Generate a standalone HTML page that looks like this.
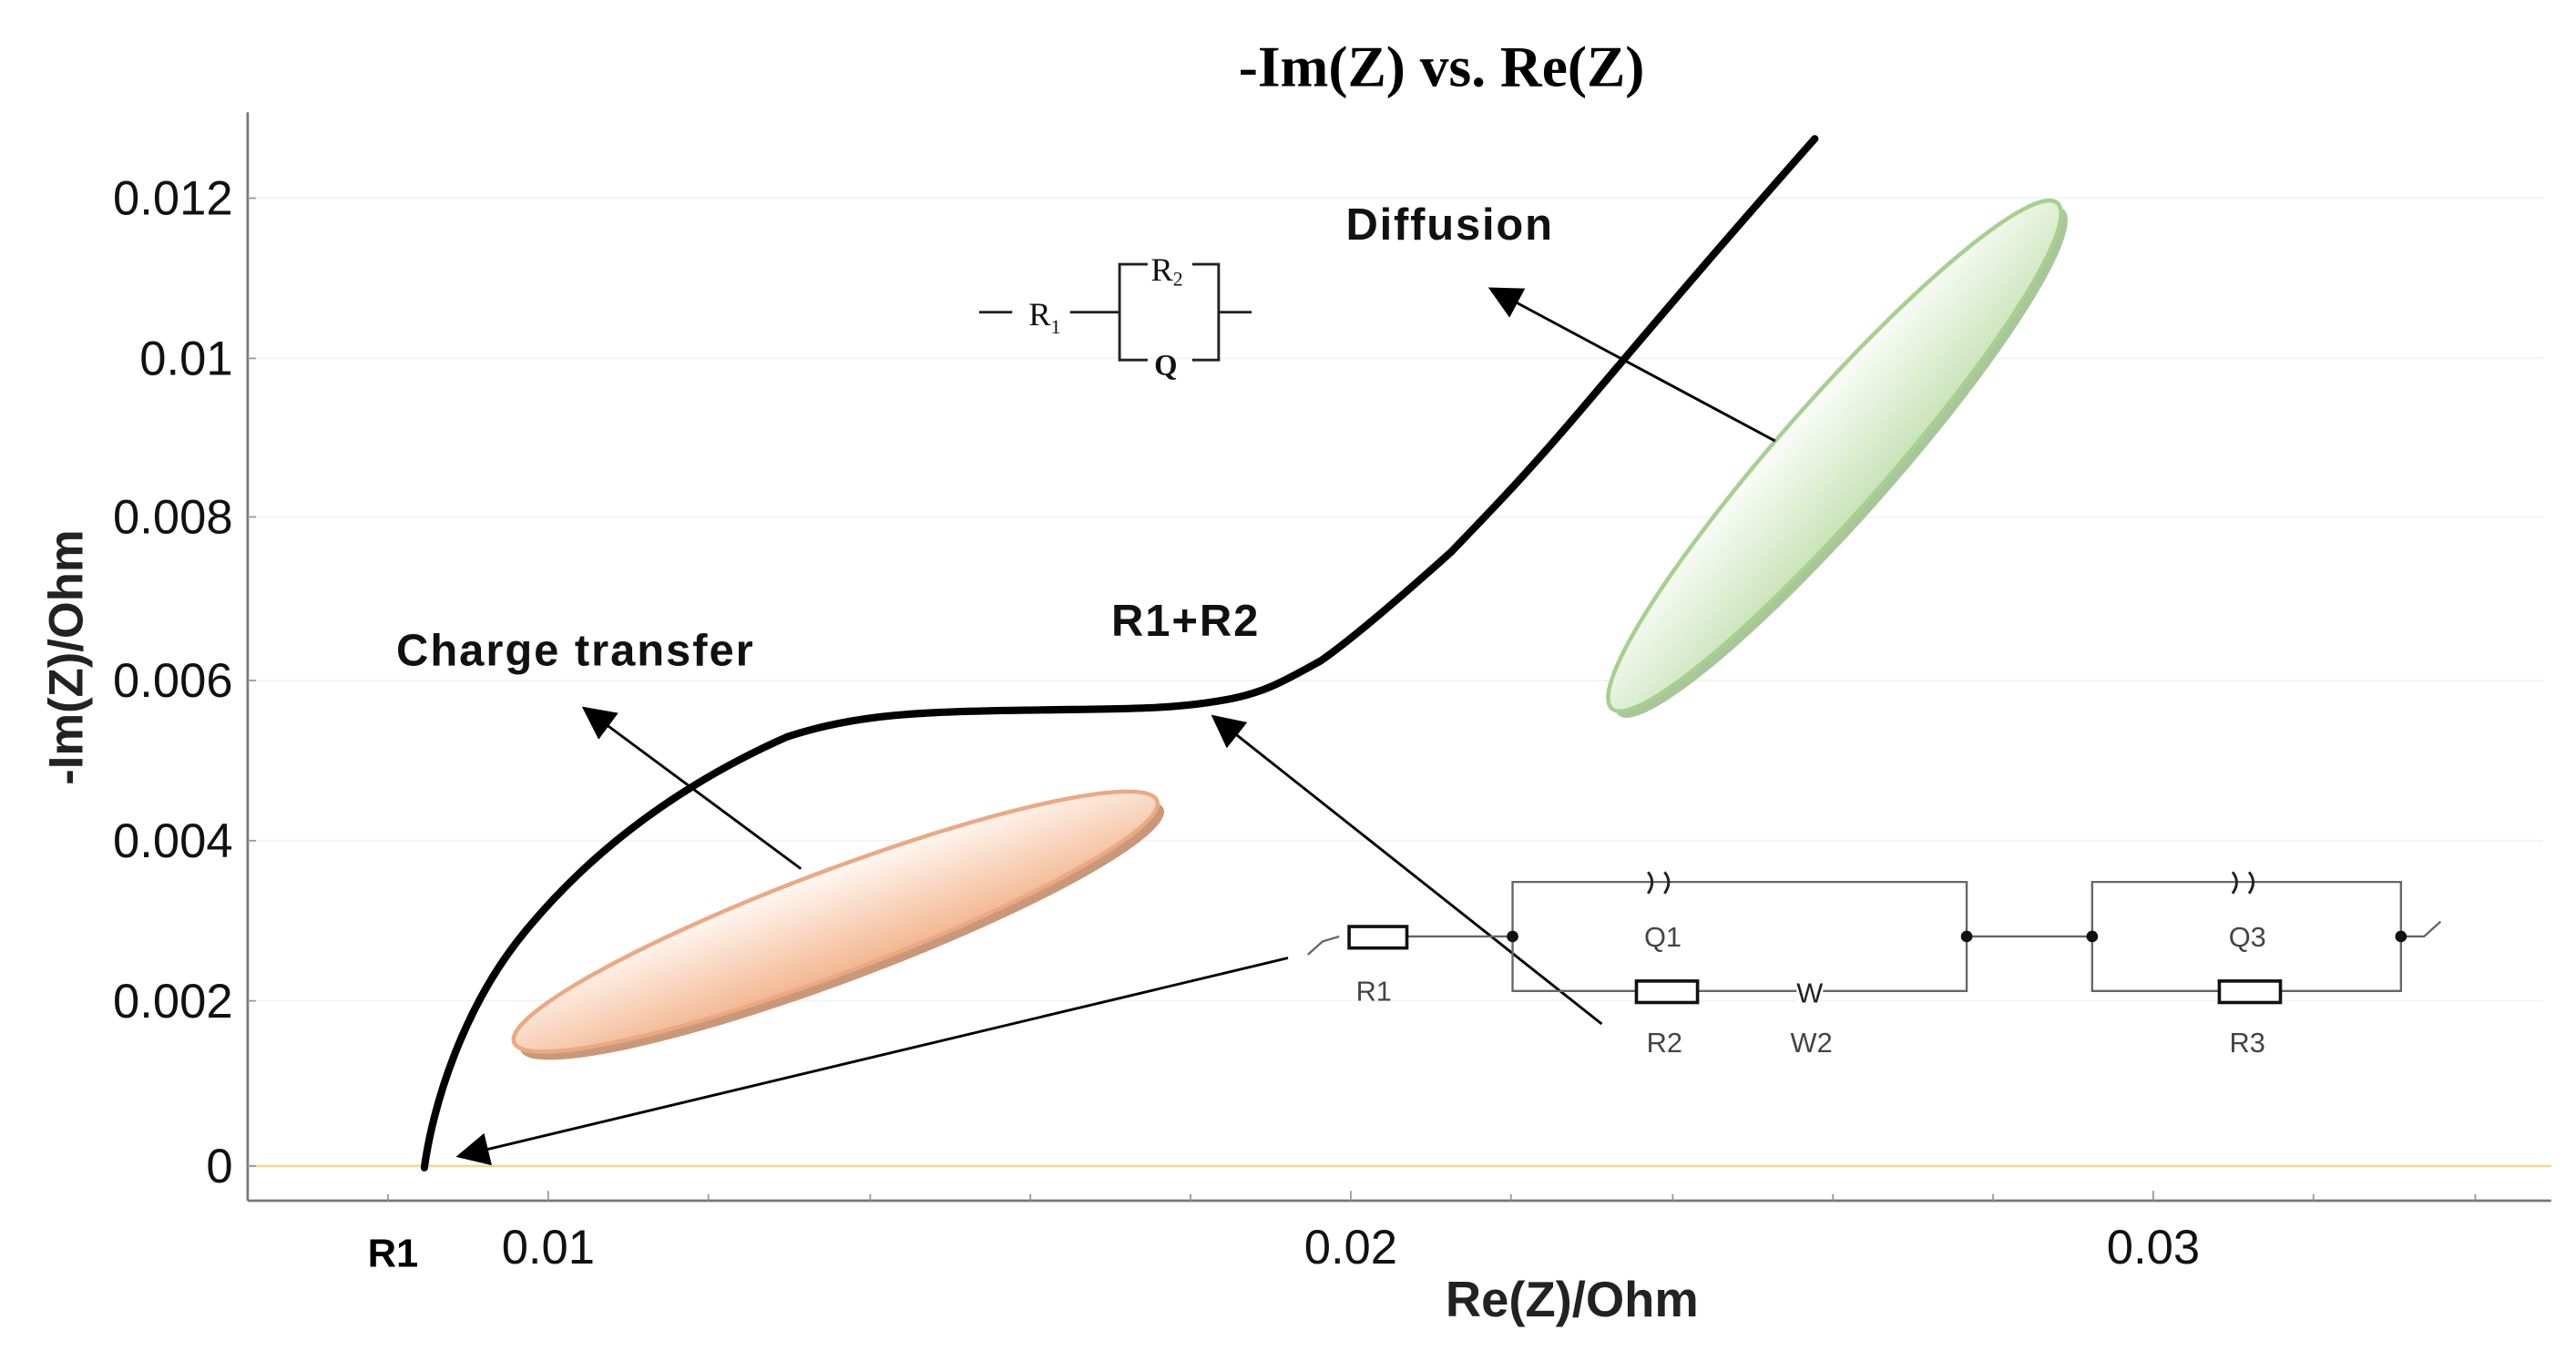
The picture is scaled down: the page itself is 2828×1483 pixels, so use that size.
<!DOCTYPE html>
<html><head><meta charset="utf-8"><style>
html,body{margin:0;padding:0;background:#fff;}
svg{display:block;}
</style></head><body>
<svg width="2828" height="1483" viewBox="0 0 1560 818" preserveAspectRatio="none" xmlns="http://www.w3.org/2000/svg">
<defs>
<linearGradient id="og" x1="0" y1="0" x2="0" y2="1">
<stop offset="0" stop-color="#fff8f3"/><stop offset="1" stop-color="#f3b690"/></linearGradient>
<linearGradient id="gg" x1="0" y1="0" x2="0" y2="1">
<stop offset="0" stop-color="#fbfdf9"/><stop offset="1" stop-color="#c9e3b8"/></linearGradient>
<marker id="ah" viewBox="0 0 10 10" refX="9" refY="5" markerWidth="22" markerHeight="20" markerUnits="userSpaceOnUse" orient="auto">
<path d="M0,0 L10,5 L0,10 z" fill="#000"/></marker>
</defs>
<g stroke="#f3f3f3" stroke-width="1">
<line x1="151" y1="120" x2="1540" y2="120"/><line x1="151" y1="217" x2="1540" y2="217"/>
<line x1="151" y1="313" x2="1540" y2="313"/><line x1="151" y1="412" x2="1540" y2="412"/>
<line x1="151" y1="509" x2="1540" y2="509"/><line x1="151" y1="606" x2="1540" y2="606"/>
</g>
<line x1="151" y1="706" x2="1545" y2="706" stroke="#f0d98e" stroke-width="1.5"/>
<line x1="150" y1="68" x2="150" y2="727" stroke="#777" stroke-width="1.5"/>
<line x1="150" y1="727" x2="1545" y2="727" stroke="#777" stroke-width="1.5"/>
<g stroke="#999" stroke-width="1">
<line x1="150" y1="120" x2="155" y2="120"/><line x1="150" y1="217" x2="155" y2="217"/>
<line x1="150" y1="313" x2="155" y2="313"/><line x1="150" y1="412" x2="155" y2="412"/>
<line x1="150" y1="509" x2="155" y2="509"/><line x1="150" y1="606" x2="155" y2="606"/>
<line x1="150" y1="706" x2="155" y2="706"/>
<line x1="235" y1="727" x2="235" y2="723"/><line x1="332" y1="727" x2="332" y2="721"/>
<line x1="429" y1="727" x2="429" y2="723"/><line x1="527" y1="727" x2="527" y2="723"/>
<line x1="624" y1="727" x2="624" y2="723"/><line x1="721" y1="727" x2="721" y2="723"/>
<line x1="818" y1="727" x2="818" y2="721"/><line x1="915" y1="727" x2="915" y2="723"/>
<line x1="1013" y1="727" x2="1013" y2="723"/><line x1="1110" y1="727" x2="1110" y2="723"/>
<line x1="1207" y1="727" x2="1207" y2="723"/><line x1="1304" y1="727" x2="1304" y2="721"/>
<line x1="1401" y1="727" x2="1401" y2="723"/><line x1="1499" y1="727" x2="1499" y2="723"/>
</g>
<g font-family="Liberation Sans, sans-serif" font-size="29" fill="#111" text-anchor="end">
<text x="141" y="130">0.012</text><text x="141" y="227">0.01</text>
<text x="141" y="323">0.008</text><text x="141" y="422">0.006</text>
<text x="141" y="519">0.004</text><text x="141" y="616">0.002</text>
<text x="141" y="716">0</text>
</g>
<g font-family="Liberation Sans, sans-serif" font-size="29" fill="#111" text-anchor="middle">
<text x="332" y="765">0.01</text><text x="818" y="765">0.02</text><text x="1304" y="765">0.03</text>
</g>
<text x="238" y="767" font-family="Liberation Sans, sans-serif" font-weight="bold" font-size="24" text-anchor="middle">R1</text>
<text x="952" y="797" font-family="Liberation Sans, sans-serif" font-weight="bold" font-size="30" text-anchor="middle" fill="#222">Re(Z)/Ohm</text>
<text transform="translate(50,398) rotate(-90)" font-family="Liberation Sans, sans-serif" font-weight="bold" font-size="29" text-anchor="middle" fill="#222">-Im(Z)/Ohm</text>
<text x="873" y="52" font-family="Liberation Serif, serif" font-weight="bold" font-size="35" text-anchor="middle">-Im(Z) vs. Re(Z)</text>
<g transform="translate(510,563) rotate(-20.6)"><ellipse rx="208" ry="31" fill="#c9987a"/></g>
<g transform="translate(506,558) rotate(-20.6)"><ellipse rx="208" ry="31" fill="url(#og)" stroke="#eba983" stroke-width="2.5"/></g>
<g transform="translate(1115,280) rotate(-48.6)"><ellipse rx="204" ry="33" fill="#a9c69a"/></g>
<g transform="translate(1111,276) rotate(-48.6)"><ellipse rx="204" ry="33" fill="url(#gg)" stroke="#a6d08f" stroke-width="2.5"/></g>
<path d="M257,707 C262,670 280,610 318,564 C350,525 400,480 477,446 C520,432 560,431 620,430 C680,429 710,430 746,423 C765,419 775,414 800,400 C820,386 850,360 879,334 C900,312 920,292 955,251 C990,210 1030,162 1099,84" fill="none" stroke="#000" stroke-width="4.5" stroke-linecap="round"/>
<g stroke="#000" stroke-width="1.6" fill="none">
<line x1="485" y1="526" x2="354" y2="429" marker-end="url(#ah)"/>
<line x1="1075" y1="267" x2="903" y2="175" marker-end="url(#ah)"/>
<line x1="970" y1="620" x2="735" y2="434" marker-end="url(#ah)"/>
<line x1="780" y1="580" x2="278" y2="700" marker-end="url(#ah)"/>
</g>
<g font-family="Liberation Sans, sans-serif" font-weight="bold" font-size="27" fill="#111">
<text x="240" y="403" textLength="216">Charge transfer</text>
<text x="673" y="385" textLength="89">R1+R2</text>
<text x="815" y="145" textLength="125">Diffusion</text>
</g>
<g stroke="#222" stroke-width="1.6" fill="none">
<line x1="593" y1="189" x2="613" y2="189"/><line x1="648" y1="189" x2="678" y2="189"/>
<polyline points="695,160 678,160 678,218 695,218"/>
<polyline points="722,160 738,160 738,218 722,218"/>
<line x1="738" y1="189" x2="758" y2="189"/>
</g>
<g font-family="Liberation Serif, serif" font-size="20" fill="#111">
<text x="623" y="197">R<tspan font-size="12" dy="5">1</tspan></text>
<text x="697" y="170">R<tspan font-size="12" dy="3">2</tspan></text>
<text x="699" y="227" font-weight="bold" font-size="18">Q</text>
</g>
<g stroke="#666" stroke-width="1.3" fill="none">
<path d="M792,578 L801,570 L811,567"/>
<line x1="849" y1="567" x2="916" y2="567"/>
<polyline points="916,567 916,534 1191,534 1191,600 916,600 916,567"/>
<line x1="1191" y1="567" x2="1267" y2="567"/>
<polyline points="1267,567 1267,534 1454,534 1454,600 1267,600 1267,567"/>
<path d="M1454,567 L1468,567 L1478,558"/>
</g>
<g fill="#fff" stroke="#111" stroke-width="2">
<rect x="817" y="561" width="35" height="13"/>
<rect x="991" y="594" width="37" height="13"/>
<rect x="1344" y="594" width="37" height="13"/>
</g>
<g stroke="#222" stroke-width="1.6" fill="none">
<path d="M998,528 Q1003,534 998,541"/><path d="M1008,528 Q1013,534 1008,541"/>
<path d="M1352,528 Q1357,534 1352,541"/><path d="M1362,528 Q1367,534 1362,541"/>
</g>
<rect x="1088" y="593" width="16" height="14" fill="#fff"/>
<text x="1096" y="607" font-family="Liberation Sans, sans-serif" font-size="17" fill="#222" text-anchor="middle">W</text>
<g fill="#111"><circle cx="916" cy="567" r="3.5"/><circle cx="1191" cy="567" r="3.5"/><circle cx="1267" cy="567" r="3.5"/><circle cx="1454" cy="567" r="3.5"/></g>
<g font-family="Liberation Sans, sans-serif" font-size="17" fill="#444" text-anchor="middle">
<text x="832" y="606">R1</text><text x="1007" y="573">Q1</text>
<text x="1008" y="637">R2</text><text x="1097" y="637">W2</text>
<text x="1361" y="573">Q3</text><text x="1361" y="637">R3</text>
</g>
</svg>
</body></html>
